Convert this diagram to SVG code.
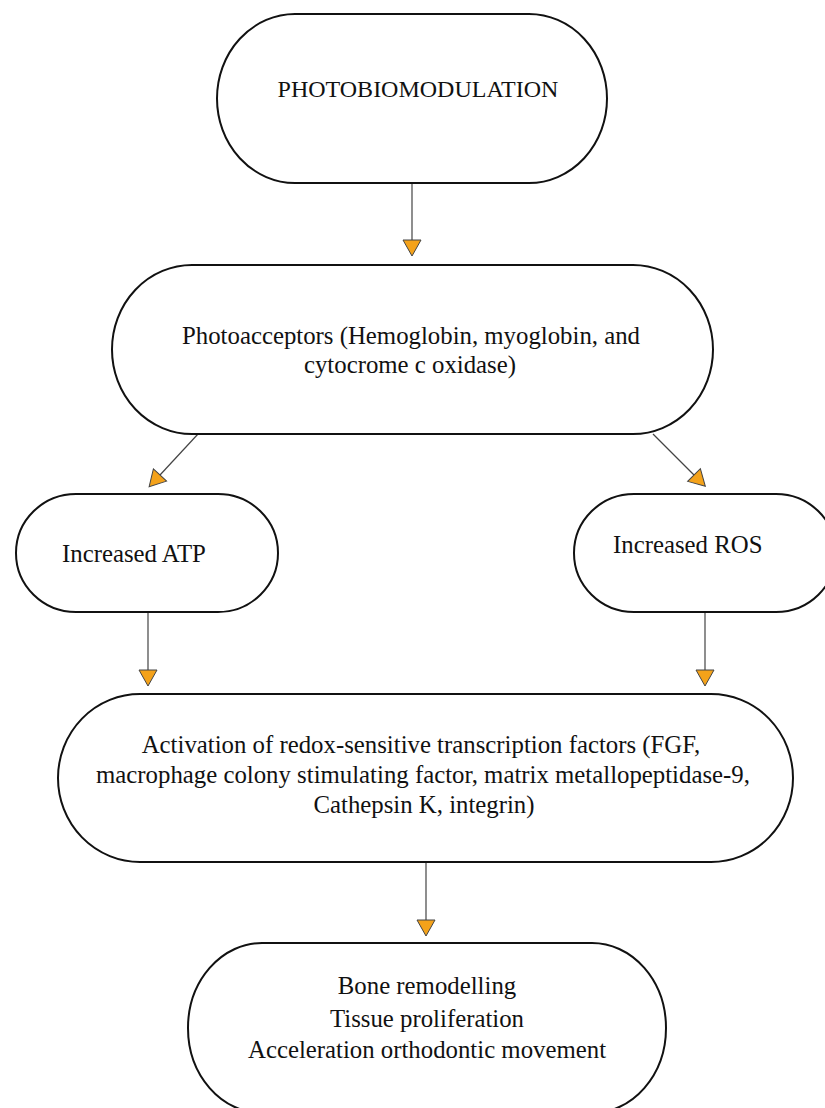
<svg xmlns="http://www.w3.org/2000/svg" width="825" height="1108" viewBox="0 0 825 1108">
  <style>
    .node { fill: #ffffff; stroke: #111111; stroke-width: 2; }
    .conn { fill: none; stroke: #444444; stroke-width: 1.2; }
    .lbl { font-family: "Liberation Serif", "Times New Roman", serif; font-size: 24.8px; fill: #111111; }
    .mid { text-anchor: middle; }
  </style>
  <defs>
    <marker id="head" viewBox="-1 -10 19 20" markerUnits="userSpaceOnUse" markerWidth="19" markerHeight="20" refX="0" refY="0" orient="auto">
      <path d="M0,-9 L16,0 L0,9 Z" fill="#F4A21A" stroke="#444444" stroke-width="1"/>
    </marker>
  </defs>
  <rect width="825" height="1108" fill="#ffffff"/>

  <g id="connectors">
    <line class="conn" x1="412" y1="183" x2="412" y2="240" marker-end="url(#head)"/>
    <line class="conn" x1="198" y1="434" x2="160" y2="475" marker-end="url(#head)"/>
    <line class="conn" x1="653" y1="434" x2="694" y2="475" marker-end="url(#head)"/>
    <line class="conn" x1="148" y1="612" x2="148" y2="670" marker-end="url(#head)"/>
    <line class="conn" x1="705" y1="612" x2="705" y2="670" marker-end="url(#head)"/>
    <line class="conn" x1="426" y1="862" x2="426" y2="920" marker-end="url(#head)"/>
  </g>

  <g id="node-photobiomodulation">
    <rect class="node" x="217" y="14" width="390" height="169" rx="78" ry="84.5"/>
    <text class="lbl" x="418" y="97" text-anchor="middle" style="font-size:24px">PHOTOBIOMODULATION</text>
  </g>

  <g id="node-photoacceptors">
    <rect class="node" x="112" y="265" width="601" height="169" rx="80" ry="84.5"/>
    <text class="lbl mid" x="411" y="344">Photoacceptors (Hemoglobin, myoglobin, and</text>
    <text class="lbl mid" x="410" y="373">cytocrome c oxidase)</text>
  </g>

  <g id="node-atp">
    <rect class="node" x="16" y="494" width="262" height="118" rx="60" ry="59"/>
    <text class="lbl" x="62" y="562">Increased ATP</text>
  </g>

  <g id="node-ros">
    <rect class="node" x="574" y="494" width="262" height="118" rx="60" ry="59"/>
    <text class="lbl" x="613" y="553">Increased ROS</text>
  </g>

  <g id="node-activation">
    <rect class="node" x="58" y="694" width="735" height="168" rx="82" ry="84"/>
    <text class="lbl mid" x="421" y="753">Activation of redox-sensitive transcription factors (FGF,</text>
    <text class="lbl mid" x="423" y="783">macrophage colony stimulating factor, matrix metallopeptidase-9,</text>
    <text class="lbl mid" x="424" y="813">Cathepsin K, integrin)</text>
  </g>

  <g id="node-outcomes">
    <rect class="node" x="188" y="943" width="478" height="170" rx="74" ry="85"/>
    <text class="lbl mid" x="427" y="994">Bone remodelling</text>
    <text class="lbl mid" x="427" y="1027">Tissue proliferation</text>
    <text class="lbl mid" x="427" y="1058">Acceleration orthodontic movement</text>
  </g>
</svg>
